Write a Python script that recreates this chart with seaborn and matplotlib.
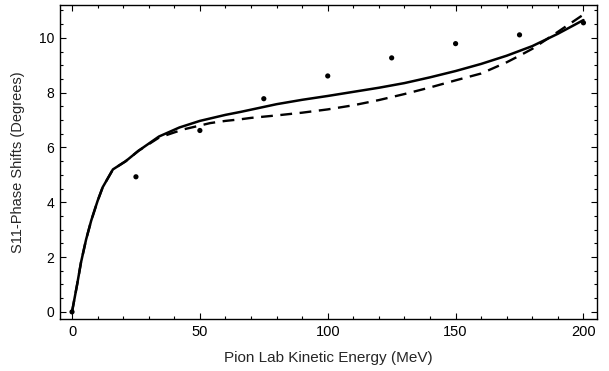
import numpy as np
import pandas as pd
import matplotlib
matplotlib.use("Agg")
import matplotlib.pyplot as plt
from matplotlib.ticker import MultipleLocator
import seaborn as sns

# Data
energy_points = [0, 25, 50, 75, 100, 125, 150, 175, 200]
phase_points = [0.0, 4.93, 6.62, 7.78, 8.61, 9.27, 9.79, 10.11, 10.55]

solid_x = [0, 2, 3.5, 5.5, 7.5, 10, 12, 16, 21, 26, 34, 42, 50, 55, 60, 66, 70,
           77, 80, 90, 100, 110, 120, 130, 140, 150, 160, 170, 180, 190, 200]
solid_y = [0.0, 1.0, 1.8, 2.64, 3.33, 4.05, 4.55, 5.2, 5.5, 5.88, 6.4, 6.73, 6.97,
           7.08, 7.19, 7.3, 7.38, 7.52, 7.58, 7.74, 7.88, 8.03, 8.18, 8.35, 8.56,
           8.79, 9.05, 9.35, 9.7, 10.15, 10.65]

dashed_x = [0, 2, 3.5, 5.5, 7.5, 10, 12, 16, 21, 26, 34, 40, 44, 50, 54, 60, 66,
            70, 80, 90, 100, 110, 120, 130, 140, 150, 160, 170, 175, 180, 190, 200]
dashed_y = [0.0, 1.0, 1.8, 2.64, 3.33, 4.05, 4.55, 5.2, 5.5, 5.88, 6.36, 6.55,
            6.67, 6.8, 6.89, 6.97, 7.03, 7.08, 7.17, 7.27, 7.39, 7.54, 7.73,
            7.95, 8.19, 8.45, 8.7, 9.11, 9.35, 9.6, 10.22, 10.85]

x_ticks = [0, 50, 100, 150, 200]
y_ticks = [0, 2, 4, 6, 8, 10]

sns.set_style("ticks")
plt.rcParams['font.family'] = ['Liberation Sans', 'DejaVu Sans']

fig = plt.figure(figsize=(6.09, 3.71), dpi=100)
ax = fig.add_axes([60 / 609, 1 - 319 / 371, (597 - 60) / 609, (319 - 5) / 371])

pts = pd.DataFrame({"E": energy_points, "phase": phase_points})
sol = pd.DataFrame({"E": solid_x, "phase": solid_y})
das = pd.DataFrame({"E": dashed_x, "phase": dashed_y})

sns.lineplot(data=das, x="E", y="phase", ax=ax, color="black", lw=1.7,
             dashes=False, sort=False)
ax.lines[-1].set_dashes([5, 3.2])
sns.lineplot(data=sol, x="E", y="phase", ax=ax, color="black", lw=1.8, sort=False)
sns.scatterplot(data=pts, x="E", y="phase", ax=ax, color="black", s=14,
                edgecolor="none", zorder=5)

ax.set_xlim(-4.7, 205.3)
ax.set_ylim(-0.26, 11.2)
ax.set_xticks(x_ticks)
ax.set_yticks(y_ticks)
ax.xaxis.set_minor_locator(MultipleLocator(10))
ax.yaxis.set_minor_locator(MultipleLocator(0.5))
ax.tick_params(which="both", direction="in", top=True, right=True,
               color="black", width=0.8, pad=4, labelcolor="black")
ax.tick_params(axis="x", labelsize=10.5)
ax.tick_params(axis="y", labelsize=10)
ax.tick_params(which="major", length=4)
ax.tick_params(which="minor", length=2)
for s in ax.spines.values():
    s.set_linewidth(1.0)
    s.set_color("black")

ax.set_xlabel("Pion Lab Kinetic Energy (MeV)", fontsize=11, labelpad=9)
ax.set_ylabel("S11-Phase Shifts (Degrees)", fontsize=10.5, labelpad=10)

fig.savefig("out.png", dpi=100)
